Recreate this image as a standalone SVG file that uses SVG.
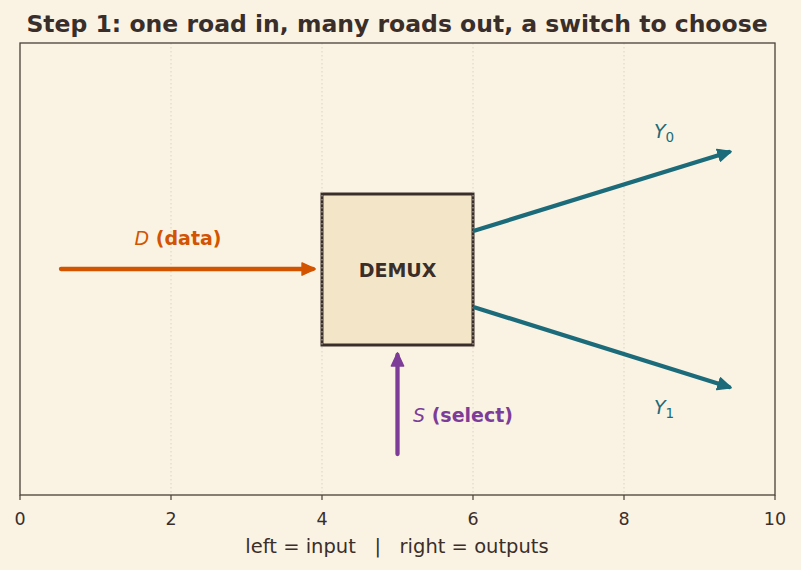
<svg xmlns="http://www.w3.org/2000/svg" width="801" height="570" viewBox="0 0 801 570">
<style>
text{font-family:"DejaVu Sans",sans-serif;}
.tick{font-size:17.5px;fill:#3a2e2a;text-anchor:middle;}
.grid{stroke:#d9cfbd;stroke-width:0.9;stroke-dasharray:1.5,2.5;}
.arr{fill:none;stroke-width:4.3;stroke-linecap:round;}
</style>
<defs>
<marker id="hO" viewBox="0 0 10 10" refX="8" refY="5" markerWidth="3.4" markerHeight="3.4" orient="auto" markerUnits="strokeWidth"><path d="M0.5,0.8 L9.5,5 L0.5,9.2 Z" fill="#d35400" stroke="#d35400" stroke-linejoin="round"/></marker>
<marker id="hT" viewBox="0 0 10 10" refX="8" refY="5" markerWidth="3.4" markerHeight="3.4" orient="auto" markerUnits="strokeWidth"><path d="M0.5,0.8 L9.5,5 L0.5,9.2 Z" fill="#1b6b7a" stroke="#1b6b7a" stroke-linejoin="round"/></marker>
<marker id="hP" viewBox="0 0 10 10" refX="8" refY="5" markerWidth="3.4" markerHeight="3.4" orient="auto" markerUnits="strokeWidth"><path d="M0.5,0.8 L9.5,5 L0.5,9.2 Z" fill="#7d3c98" stroke="#7d3c98" stroke-linejoin="round"/></marker>
</defs>
<rect width="801" height="570" fill="#faf3e3"/>
<rect x="20" y="43" width="755" height="452" fill="#faf3e3"/>
<text x="397" y="32" font-size="23.5" font-weight="bold" fill="#3a2e2a" text-anchor="middle">Step 1: one road in, many roads out, a switch to choose</text>
<g id="demux">
<rect x="322" y="194" width="151" height="151" fill="#f3e6c8" stroke="#3a2e2a" stroke-width="3"/>
<text x="397.5" y="277" font-size="19" font-weight="bold" fill="#3a2e2a" text-anchor="middle">DEMUX</text>
</g>
<g id="grid">
<line class="grid" x1="171" y1="43" x2="171" y2="495"/>
<line class="grid" x1="322" y1="43" x2="322" y2="495"/>
<line class="grid" x1="473" y1="43" x2="473" y2="495"/>
<line class="grid" x1="624" y1="43" x2="624" y2="495"/>
</g>
<g id="connectors">
<line class="arr" x1="61" y1="269" x2="313" y2="269" stroke="#d35400" marker-end="url(#hO)"/>
<line class="arr" x1="475" y1="230.5" x2="729" y2="152" stroke="#1b6b7a" marker-end="url(#hT)"/>
<line class="arr" x1="475" y1="307.5" x2="729" y2="387" stroke="#1b6b7a" marker-end="url(#hT)"/>
<line class="arr" x1="397.5" y1="454" x2="397.5" y2="355" stroke="#7d3c98" marker-end="url(#hP)"/>
</g>
<g id="labels">
<text x="178" y="245" font-size="19" font-weight="bold" fill="#d35400" text-anchor="middle"><tspan font-style="italic" font-weight="normal">D</tspan> (data)</text>
<text x="654" y="138" font-size="19" fill="#1b6b7a" font-style="italic">Y<tspan font-size="13.5" dy="4" font-style="normal">0</tspan></text>
<text x="654" y="414" font-size="19" fill="#1b6b7a" font-style="italic">Y<tspan font-size="13.5" dy="4" font-style="normal">1</tspan></text>
<text x="413" y="422" font-size="19" font-weight="bold" fill="#7d3c98"><tspan font-style="italic" font-weight="normal">S</tspan> (select)</text>
</g>
<g id="axes">
<rect x="20" y="43" width="755" height="452" fill="none" stroke="#4a3f37" stroke-width="1.3"/>
<g stroke="#4a3f37" stroke-width="1.2">
<line x1="20" y1="495" x2="20" y2="500"/>
<line x1="171" y1="495" x2="171" y2="500"/>
<line x1="322" y1="495" x2="322" y2="500"/>
<line x1="473" y1="495" x2="473" y2="500"/>
<line x1="624" y1="495" x2="624" y2="500"/>
<line x1="775" y1="495" x2="775" y2="500"/>
</g>
<text class="tick" x="20" y="525">0</text>
<text class="tick" x="171" y="525">2</text>
<text class="tick" x="322" y="525">4</text>
<text class="tick" x="473" y="525">6</text>
<text class="tick" x="624" y="525">8</text>
<text class="tick" x="775" y="525">10</text>
<text x="397" y="553" font-size="19.5" fill="#3a2e2a" text-anchor="middle" xml:space="preserve">left = input   |   right = outputs</text>
</g>
</svg>
